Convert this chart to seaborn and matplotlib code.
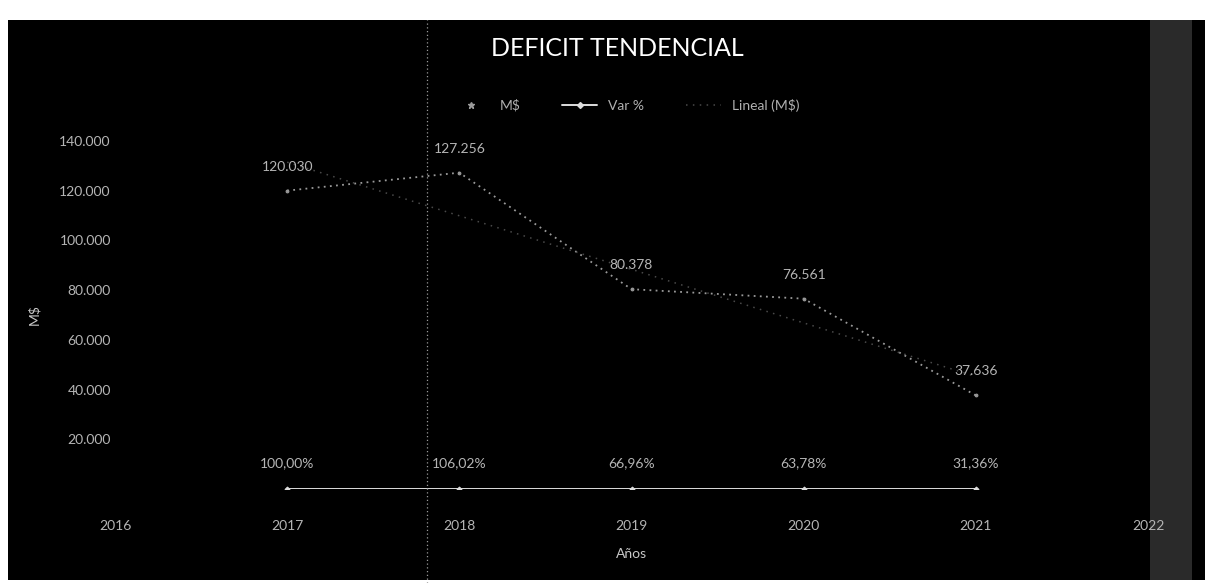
import matplotlib
matplotlib.use("Agg")
import matplotlib.pyplot as plt
from matplotlib.patches import Rectangle
from matplotlib.lines import Line2D
from matplotlib.ticker import FuncFormatter
import seaborn as sns
import pandas as pd
import numpy as np

# ---- data ----
years = [2017, 2018, 2019, 2020, 2021]
ms_values = [120030, 127256, 80378, 76561, 37636]
var_pct = [1.0000, 1.0602, 0.6696, 0.6378, 0.3136]
ms_labels = ["120.030", "127.256", "80.378", "76.561", "37.636"]
var_labels = ["100,00%", "106,02%", "66,96%", "63,78%", "31,36%"]
x_ticks = [2016, 2017, 2018, 2019, 2020, 2021, 2022]
y_ticks = [20000, 40000, 60000, 80000, 100000, 120000, 140000]

df = pd.DataFrame({"Año": years, "M$": ms_values, "Var %": var_pct})

sns.set_theme(style="dark")
plt.rcParams['font.family'] = ['Lato', 'DejaVu Sans']

W, H = 1205, 583
fig = plt.figure(figsize=(W / 100, H / 100), dpi=100, facecolor="white")

# black chart background (scanned page)
fig.patches.append(Rectangle((8 / W, 3 / H), 1 - 8 / W, (H - 23) / H,
                             transform=fig.transFigure, facecolor="black",
                             edgecolor="none", zorder=-10))
# speckled strip at the right (scan noise)
fig.patches.append(Rectangle((1150 / W, 3 / H), 42 / W, (H - 23) / H,
                             transform=fig.transFigure, facecolor="#2a2a2a",
                             edgecolor="none", zorder=-9))

ax = fig.add_axes([115 / W, (H - 489) / H, 1033 / W, 348 / H])
ax.set_facecolor("none")
ax.set_zorder(1)

ms_color = "#9a9a9a"
var_color = "#dcdcdc"
trend_color = "#4a4a4a"

# M$ series
sns.lineplot(data=df, x="Año", y="M$", ax=ax, color=ms_color,
             linestyle=(0, (1, 2.4)), linewidth=1.3,
             marker="o", markersize=2, markeredgecolor=ms_color)
# Var % series (on the same scale, near zero)
sns.lineplot(data=df, x="Año", y="Var %", ax=ax, color=var_color,
             linewidth=1.4, marker="D", markersize=2.5,
             markeredgecolor=var_color)
# linear trend of M$
sns.regplot(data=df, x="Año", y="M$", ax=ax, scatter=False, ci=None,
            truncate=True, color=trend_color,
            line_kws={"linestyle": (0, (1, 3.5)), "linewidth": 1.1})

for x, y, t in zip(years, ms_values, ms_labels):
    ax.annotate(t, (x, y), xytext=(0, 13), textcoords="offset points",
                ha="center", va="bottom", color="#b5b5b5", fontsize=10)
for x, y, t in zip(years, var_pct, var_labels):
    ax.annotate(t, (x, y), xytext=(0, 14), textcoords="offset points",
                ha="center", va="bottom", color="#b5b5b5", fontsize=10)

ax.set_xlim(2016, 2022)
ax.set_ylim(0, 140000)
ax.set_xticks(x_ticks)
ax.set_xticklabels([str(v) for v in x_ticks])
ax.set_yticks(y_ticks)
ax.yaxis.set_major_formatter(FuncFormatter(lambda v, p: f"{v:,.0f}".replace(",", ".")))
ax.tick_params(axis="both", colors="#b5b5b5", labelsize=10, length=0)
ax.tick_params(axis="x", pad=22)
ax.tick_params(axis="y", pad=3)
ax.grid(False)
for s in ax.spines.values():
    s.set_visible(False)

ax.set_xlabel("Años", color="#c8c8c8", fontsize=10, labelpad=12)
ax.set_ylabel("M$", color="#c8c8c8", fontsize=10, labelpad=14)

handles = [
    Line2D([], [], linestyle="none", marker="*", markersize=5, color=ms_color),
    Line2D([], [], color=var_color, linewidth=1.4, marker="D", markersize=3),
    Line2D([], [], color=trend_color, linestyle=(0, (1, 3.5)), linewidth=1.1),
]
ax.legend(handles, ["M$", "Var %", "Lineal (M$)"], loc="center",
          bbox_to_anchor=(0.52, 1 - 105 / H), bbox_transform=fig.transFigure,
          ncol=3, frameon=False, labelcolor="#b0b0b0", fontsize=10,
          handlelength=2.5, columnspacing=3)

fig.text(617 / W, 1 - 48 / H, "DEFICIT TENDENCIAL", ha="center", va="center",
         color="white", fontsize=18)

# fold line from the scan
fig.lines.append(Line2D([427 / W, 427 / W], [0, (H - 20) / H],
                        transform=fig.transFigure, color="#9a9a9a",
                        linestyle=(0, (1, 2)), linewidth=0.9, zorder=10))

fig.savefig("out.png", dpi=100, facecolor="white")
